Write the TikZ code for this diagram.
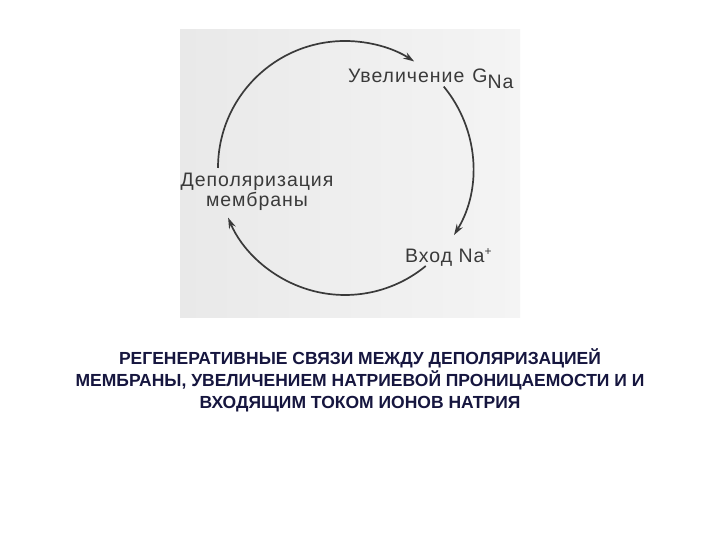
\documentclass[tikz,border=0pt]{standalone}
\usepackage{fontspec}
\setmainfont{Liberation Sans}
\newfontfamily\labfont[LetterSpace=5]{Liberation Sans}
\usetikzlibrary{arrows.meta,calc}
\definecolor{scanbg}{HTML}{E9E9E9}
\definecolor{scanbgR}{HTML}{F4F4F4}
\definecolor{inkc}{HTML}{3A3A3A}
\definecolor{capc}{HTML}{16163F}
\tikzset{
  cyc/.style={draw=inkc, line width=1.7pt, -{Stealth[length=11pt,width=7pt]}},
  lbl/.style={text=inkc, font=\labfont\fontsize{19.5}{20}\selectfont, inner sep=0pt},
  captext/.style={text=capc, font=\fontsize{17.5}{22}\selectfont\bfseries, align=center, inner sep=0pt}
}
\begin{document}
\begin{tikzpicture}[x=1pt,y=1pt]
\useasboundingbox (0,0) rectangle (720,540);
\fill[white] (0,0) rectangle (720,540);
\shade[left color=scanbg, right color=scanbgR] (180,222) rectangle (520,510);
\coordinate (c) at (345,372);
% labels
\node[lbl, anchor=base west] (gna) at (348,457) {Увеличение\hspace{8pt}G\raisebox{-6pt}{Na}};
\node[lbl, align=center] (dep) at (257,348) {Деполяризация\\мембраны};
\node[lbl, anchor=base west] (vna) at (405,277) {Вход Na\raisebox{7pt}{\fontsize{12}{12}\selectfont +}};
% arcs
\coordinate (a1) at ($(c)+(180:127)$);
\coordinate (a2) at ($(c)+(39.5:128)$);
\coordinate (a3) at ($(c)+(-50.5:127)$);
\draw[cyc] (a1) arc[start angle=180, end angle=57, radius=127];
\draw[cyc] (a2) arc[start angle=39.5, end angle=-31.6, radius=128];
\draw[cyc] (a3) arc[start angle=-50.5, end angle=-157, radius=127];
% caption
\node[captext] (caption) at (360,160) {РЕГЕНЕРАТИВНЫЕ СВЯЗИ МЕЖДУ ДЕПОЛЯРИЗАЦИЕЙ\\МЕМБРАНЫ, УВЕЛИЧЕНИЕМ НАТРИЕВОЙ ПРОНИЦАЕМОСТИ И И\\ВХОДЯЩИМ ТОКОМ ИОНОВ НАТРИЯ};
\end{tikzpicture}
\end{document}
